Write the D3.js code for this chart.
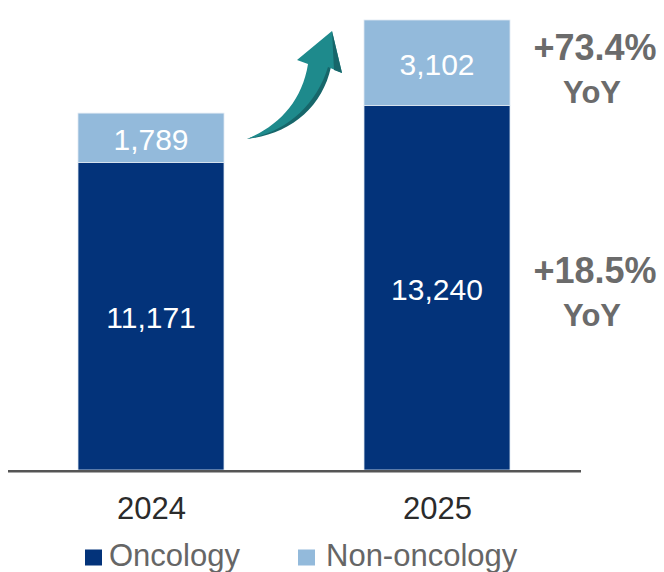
<!DOCTYPE html>
<html><head><meta charset="utf-8">
<script src="https://cdn.jsdelivr.net/npm/d3@7/dist/d3.min.js"></script>
<style>body{margin:0;background:#fff}svg{display:block}</style>
</head><body><svg id="c" width="664" height="572"></svg>
<script>
const years = ["2024", "2025"];
const oncology = [11171, 13240];
const nonOncology = [1789, 3102];
const seriesNames = ["Oncology", "Non-oncology"];
const yoyLabels = ["+73.4%", "+18.5%"];

const colors = {"Oncology": "#03337A", "Non-oncology": "#93BADB"};
const svg = d3.select("#c");
const font = "Liberation Sans, Arial, sans-serif";

const xPos = d3.scalePoint().domain(years).range([151, 437]);
const bw = 146;
const y = d3.scaleLinear().domain([0, oncology[1] + nonOncology[1]]).range([470, 20]);

const data = years.map((yr, i) => ({yr, onc: oncology[i], non: nonOncology[i]}));
const stack = d3.stack().keys(["onc", "non"])(data);

stack.forEach((layer, li) => {
  const name = seriesNames[li];
  svg.append("g").selectAll("rect").data(layer).join("rect")
    .attr("x", d => xPos(d.data.yr) - bw / 2)
    .attr("width", bw)
    .attr("y", d => y(d[1]))
    .attr("height", d => y(d[0]) - y(d[1]))
    .attr("fill", colors[name])
    .attr("stroke", "#dfe8f2").attr("stroke-width", 0.8);
  svg.append("g").selectAll("text").data(layer).join("text")
    .attr("x", d => xPos(d.data.yr))
    .attr("y", d => (y(d[0]) + y(d[1])) / 2 + 1)
    .attr("dy", "0.36em")
    .attr("text-anchor", "middle")
    .attr("fill", "#fff")
    .attr("font-family", font).attr("font-size", 30)
    .text(d => d3.format(",")(d[1] - d[0]));
});

// axis
const axis = d3.axisBottom(xPos).tickSize(0).tickPadding(27);
const ax = svg.append("g").attr("transform", "translate(0,470)").call(axis);
ax.select(".domain").remove();
svg.append("line").attr("x1", 8).attr("x2", 581).attr("y1", 471.3).attr("y2", 471.3)
  .attr("stroke", "#555").attr("stroke-width", 2.6);
ax.selectAll("text").attr("font-family", font).attr("font-size", 31).attr("fill", "#2b2b2b");

// YoY labels
const yoyY = [47.5, 270.5];
yoyLabels.forEach((t, i) => {
  svg.append("text").attr("x", 595).attr("y", yoyY[i]).attr("dy", "0.36em")
    .attr("text-anchor", "middle").attr("font-family", font).attr("font-weight", "bold")
    .attr("font-size", 36).attr("fill", "#6b6b6b").text(t);
  svg.append("text").attr("x", 592).attr("y", yoyY[i] + 44).attr("dy", "0.36em")
    .attr("text-anchor", "middle").attr("font-family", font).attr("font-weight", "bold")
    .attr("font-size", 31).attr("fill", "#6b6b6b").text("YoY");
});

// arrow
const ag = svg.append("g");
ag.append("path")
  .attr("d", "M247,139 C280,128 305,105 312,66 L331,67 C322,108 290,134 247,139 Z")
  .attr("fill", "#17666A");
ag.append("path")
  .attr("d", "M247,139 C278,126 302,102 308,64 L297,60 L332,31 L342,73 L328,67 C316,106 286,132 247,139 Z")
  .attr("fill", "#1E8A8C");
ag.append("path")
  .attr("d", "M332,31 L342,73 L334,70 Z").attr("fill", "#17666A");

// legend
const lg = svg.append("g");
const legendX = [85, 298];
const legendTextX = [109, 326];
seriesNames.forEach((n, i) => {
  lg.append("rect").attr("x", legendX[i]).attr("y", 549.5).attr("width", 17).attr("height", 16)
    .attr("fill", colors[n]);
  lg.append("text").attr("x", legendTextX[i]).attr("y", 565.5)
    .attr("font-family", font).attr("font-size", 31).attr("fill", "#666").text(n);
});
</script></body></html>
